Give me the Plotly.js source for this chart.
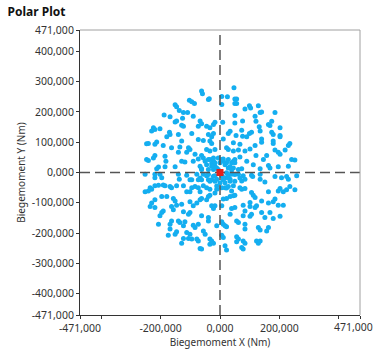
<!DOCTYPE html>
<html><head><meta charset="utf-8">
<script src="https://cdn.plot.ly/plotly-3.0.1.min.js"></script>
<style>html,body{margin:0;padding:0;background:#fff;}#chart{width:377px;height:352px;}</style>
</head><body><div id="chart"></div>
<script>
// Values in thousands of Nm, [X, Y]
const upperLeftK = [[-62,269],[-59,260],[-36,244],[-39,241],[-103,239],[-95,234],[-86,228],[-151,224],[-146,217],[-137,205],[-123,198],[-109,198],[-188,190],[-168,184],[-90,186],[-126,179],[-151,167],[-146,170],[-67,170],[-62,161],[-73,153],[-17,166],[-22,159],[-224,148],[-230,137],[-202,145],[-219,142],[-170,133],[-168,126],[-123,153],[-129,156],[-95,129],[-45,153],[-34,148],[-39,126],[-28,118],[-22,129],[-179,118],[-140,126],[-73,109],[-56,106],[-213,101],[-219,93],[-247,95],[-241,96],[-129,104],[-34,104],[-28,96],[-191,89],[-163,82],[-135,84],[-106,82],[-101,76],[-45,76],[-34,71],[-17,76],[-140,67],[-112,67],[-219,56],[-224,48],[-185,54],[-84,60],[-62,56],[-56,48],[-73,45],[-247,43],[-241,40],[-182,37],[-129,37],[-118,35],[-90,37],[-34,43],[-22,37],[-28,30],[-207,18],[-213,12],[-185,19],[-151,19],[-67,21],[-62,12],[-17,21],[-11,15],[-6,10],[-45,26]];
const upperRightK = [[47,280],[6,251],[25,250],[50,243],[56,243],[50,228],[56,228],[6,225],[99,221],[129,221],[84,210],[103,213],[135,198],[140,200],[118,186],[185,198],[50,188],[76,170],[121,169],[50,164],[9,166],[174,169],[163,159],[168,155],[132,151],[202,148],[34,136],[28,129],[73,140],[106,133],[99,129],[54,122],[76,120],[90,118],[135,137],[174,133],[179,126],[202,122],[202,118],[11,111],[140,111],[140,100],[179,104],[179,96],[45,98],[67,93],[235,96],[230,89],[118,89],[22,82],[28,76],[101,78],[84,71],[62,74],[45,71],[219,74],[185,74],[196,67],[202,60],[121,56],[157,56],[67,51],[90,37],[146,43],[241,43],[252,41],[6,43],[11,37],[22,32],[45,37],[50,32],[112,26],[163,23],[168,15],[196,19],[230,21],[34,19],[39,10],[73,12],[135,12]];
const lowerLeftK = [[-252,-6],[-219,-6],[-219,-17],[-202,-6],[-196,-17],[-140,-6],[-137,-22],[-112,-9],[-95,-24],[-101,-24],[-78,-6],[-73,-24],[-62,-24],[-56,-6],[-45,-11],[-39,-24],[-28,-24],[-17,-11],[-11,-22],[-235,-50],[-230,-55],[-241,-61],[-252,-64],[-219,-44],[-207,-42],[-191,-41],[-185,-44],[-168,-46],[-163,-50],[-146,-44],[-123,-44],[-95,-50],[-84,-46],[-73,-50],[-56,-44],[-45,-50],[-34,-55],[-112,-64],[-101,-64],[-67,-64],[-11,-55],[-17,-68],[-196,-79],[-179,-79],[-219,-90],[-230,-101],[-235,-112],[-219,-116],[-157,-86],[-151,-94],[-129,-105],[-146,-108],[-101,-97],[-62,-86],[-67,-90],[-45,-90],[-39,-79],[-34,-75],[-28,-110],[-22,-119],[-17,-110],[-90,-110],[-78,-101],[-163,-112],[-191,-127],[-202,-143],[-196,-132],[-157,-123],[-123,-130],[-106,-138],[-101,-132],[-62,-143],[-39,-149],[-39,-160],[-207,-171],[-168,-171],[-163,-160],[-140,-160],[-135,-165],[-118,-163],[-123,-176],[-90,-174],[-84,-182],[-73,-171],[-11,-176],[-168,-187],[-174,-207],[-146,-196],[-151,-204],[-112,-198],[-101,-204],[-56,-193],[-50,-204],[-123,-218],[-129,-234],[-106,-218],[-95,-220],[-78,-220],[-73,-226],[-34,-220],[-28,-226],[-34,-237],[-22,-234],[-67,-251],[-62,-253]];
const lowerRightK = [[6,-11],[17,-17],[28,-11],[39,-6],[34,-22],[11,-24],[62,-6],[78,-11],[84,-22],[73,-28],[106,-9],[110,-13],[135,-6],[135,-22],[151,-31],[185,-13],[207,-17],[224,-13],[230,-22],[258,-11],[6,-50],[17,-50],[28,-46],[45,-44],[39,-61],[67,-50],[73,-55],[84,-53],[163,-64],[196,-61],[202,-53],[213,-64],[224,-57],[235,-46],[252,-57],[106,-66],[112,-75],[118,-83],[45,-77],[50,-75],[34,-79],[22,-86],[11,-88],[140,-94],[163,-101],[179,-97],[185,-88],[196,-108],[213,-108],[78,-108],[101,-99],[101,-112],[6,-110],[39,-119],[50,-116],[118,-116],[123,-110],[140,-132],[168,-132],[151,-149],[179,-152],[202,-145],[84,-127],[78,-143],[101,-145],[106,-138],[34,-138],[6,-163],[11,-171],[22,-179],[17,-176],[56,-160],[62,-165],[84,-171],[84,-187],[129,-182],[135,-190],[157,-193],[163,-182],[6,-207],[11,-215],[56,-212],[62,-220],[56,-229],[78,-226],[84,-234],[123,-226],[129,-234],[135,-226],[17,-242],[22,-256],[73,-248],[78,-253]];
const centerK = [[-39,43],[-22,48],[-6,48],[11,45],[28,43],[39,32],[-17,32],[0,32],[17,26],[-28,21],[28,15],[45,15],[-39,10],[-22,10],[22,-1],[39,-1],[50,-7],[-39,-7],[-22,-12],[11,-18],[28,-18],[-17,-29],[0,-34],[17,-34],[34,-29],[50,-29],[-34,-29],[-11,-45],[22,-51],[-62,10],[-67,-18],[62,10],[67,-18],[-50,37],[50,43]];
const originPoint = [[0,0]];
const kNm = 1000;
const axisLimit = 471000;

const yTickVals = [-471000,-400000,-300000,-200000,-100000,0,100000,200000,300000,400000,471000];
const yTickText = ['-471,000','-400,000','-300,000','-200,000','-100,000','0,000','100,000','200,000','300,000','400,000','471,000'];
const xTickVals = [-471000,-400000,-200000,0,200000,400000,471000];
const xTickText = ['-471,000','','-200,000','0,000','200,000','',''];
const xEndLabel = '471,000';

const allPts = upperLeftK.concat(upperRightK, lowerLeftK, lowerRightK, centerK);
const font = 'Noto Sans, Open Sans, sans-serif';
const dashLine = {color:'#555', width:1.5, dash:'10px,5px'};

const traces = [
  {type:'scatter', mode:'markers', x: allPts.map(p=>p[0]*kNm), y: allPts.map(p=>p[1]*kNm),
   marker:{color:'#14aef0', size:5, line:{width:0}}, hoverinfo:'skip'},
  {type:'scatter', mode:'lines', x:[0,0], y:[-axisLimit, axisLimit], line:dashLine, hoverinfo:'skip'},
  {type:'scatter', mode:'lines', x:[-axisLimit, axisLimit], y:[0,0], line:dashLine, hoverinfo:'skip'},
  {type:'scatter', mode:'markers', x: originPoint.map(p=>p[0]), y: originPoint.map(p=>p[1]),
   marker:{color:'#e3201b', size:7, symbol:'square', line:{width:0}}, hoverinfo:'skip'}
];

const layout = {
  width:377, height:352,
  margin:{l:80, r:17, t:30, b:37},
  paper_bgcolor:'#fff', plot_bgcolor:'#fff',
  showlegend:false,
  font:{family:font, color:'#333', size:10.5},
  title:{text:'<b>Polar Plot</b>', font:{family:font, size:12, color:'#111'}, x:0.02, xref:'container', xanchor:'left', y:0.966, yref:'container', yanchor:'middle'},
  xaxis:{range:[-axisLimit,axisLimit], tickvals:xTickVals, ticktext:xTickText, showgrid:false, zeroline:false,
    showline:true, linecolor:'#333', linewidth:1, ticks:'outside', ticklen:3, tickcolor:'#333', tickwidth:1,
    tickfont:{size:10.5, color:'#333'}, automargin:false,
    title:{text:'Biegemoment X (Nm)', font:{size:10, color:'#333'}, standoff:4}},
  yaxis:{range:[-axisLimit,axisLimit], tickvals:yTickVals, ticktext:yTickText, showgrid:false, zeroline:false,
    showline:true, linecolor:'#333', linewidth:1, ticks:'outside', ticklen:3, tickcolor:'#333', tickwidth:1,
    tickfont:{size:10.5, color:'#333'}, automargin:false,
    title:{text:'Biegemoment Y (Nm)', font:{size:10, color:'#333'}, standoff:4}},
  annotations:[
    {text:xEndLabel, xref:'paper', yref:'paper', x:1, y:0, xanchor:'right', yanchor:'top', xshift:15, yshift:-3,
     showarrow:false, font:{family:font, size:10.5, color:'#333'}}
  ],
  shapes:[
    {type:'line', xref:'paper', yref:'paper', x0:0, x1:1, y0:1, y1:1, line:{color:'#a0a0a0', width:1}},
    {type:'line', xref:'paper', yref:'paper', x0:1, x1:1, y0:0, y1:1, line:{color:'#a0a0a0', width:1}}
  ]
};
Plotly.newPlot('chart', traces, layout, {staticPlot:true, displayModeBar:false});
</script></body></html>
